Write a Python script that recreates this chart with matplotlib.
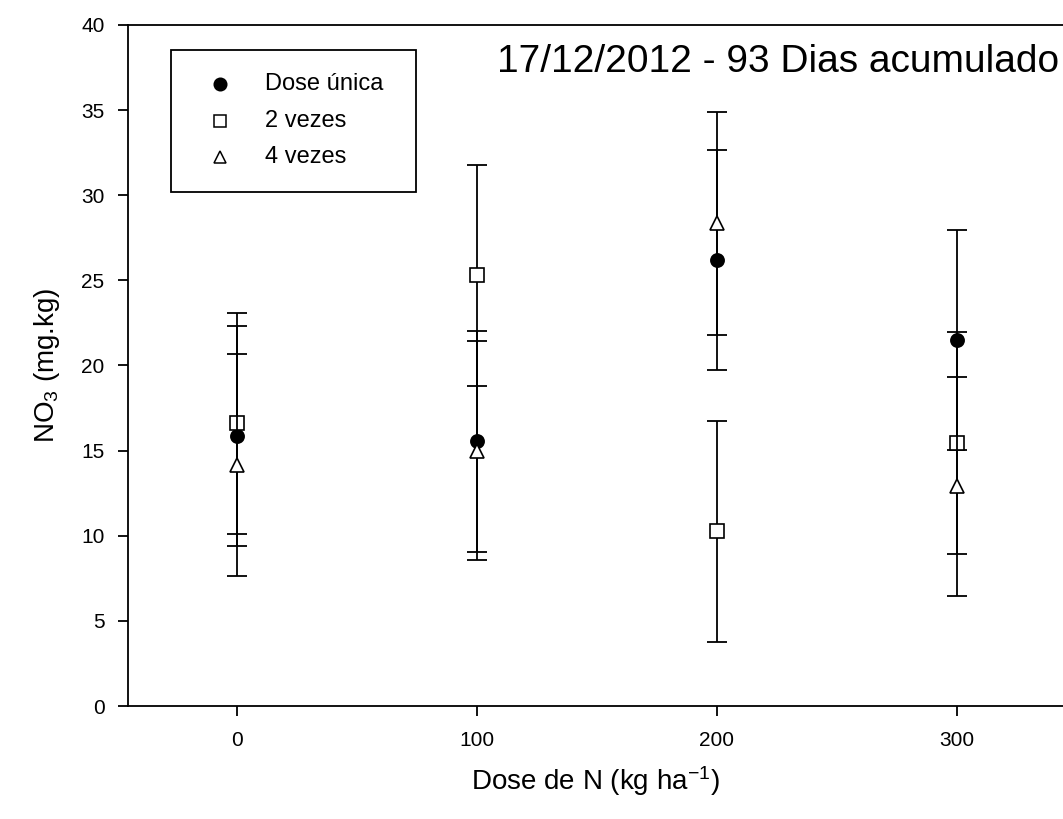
import matplotlib
matplotlib.use('Agg')
import matplotlib.pyplot as plt
from matplotlib.patches import Rectangle

plt.rcParams['font.family'] = ['Liberation Sans', 'DejaVu Sans']
plt.rcParams['mathtext.default'] = 'regular'

# dose de N (kg/ha)
doses = [0, 100, 200, 300]

series_names = ['Dose única', '2 vezes', '4 vezes']

# NO3 means and error
dose_unica = [15.85, 15.55, 26.2, 21.5]
dose_unica_err = [6.45, 6.5, 6.45, 6.45]
duas_vezes = [16.6, 25.3, 10.25, 15.45]
duas_vezes_err = [6.5, 6.5, 6.5, 6.5]
quatro_vezes = [14.15, 15.0, 28.35, 12.9]
quatro_vezes_err = [6.5, 6.45, 6.55, 6.45]

title_text = '17/12/2012 - 93 Dias acumulado'
x_ticks = [0, 100, 200, 300]
y_ticks = [0, 5, 10, 15, 20, 25, 30, 35, 40]

fig = plt.figure(figsize=(10.63, 8.19), dpi=100)
ax = fig.add_axes([128 / 1063, 113 / 819, 935 / 1063, 681 / 819])

styles = [
    dict(marker='o', mfc='black', mec='black', ms=9.5),
    dict(marker='s', mfc='white', mec='black', ms=10),
    dict(marker='^', mfc='white', mec='black', ms=10),
]
data = [(dose_unica, dose_unica_err), (duas_vezes, duas_vezes_err),
        (quatro_vezes, quatro_vezes_err)]

for i, ((vals, errs), st) in enumerate(zip(data, styles)):
    ax.errorbar(doses, vals, yerr=errs, fmt='none', ecolor='black',
                elinewidth=1.3, capsize=7.5, capthick=1.3, zorder=2 + 2 * i)
    ax.plot(doses, vals, linestyle='none', mew=1.2, zorder=3 + 2 * i, **st)

ax.set_xlim(-45.4, 344.2)
ax.set_ylim(0, 40)
ax.set_xticks(x_ticks)
ax.set_yticks(y_ticks)
ax.tick_params(direction='out', length=7, width=1.3, labelsize=15,
               colors='black')
ax.tick_params(axis='x', pad=11)
ax.tick_params(axis='y', pad=10)
ax.spines['right'].set_visible(False)
for s in ['left', 'bottom', 'top']:
    ax.spines[s].set_linewidth(1.3)

ax.set_xlabel('Dose de N (kg ha$^{-1}$)', fontsize=20, labelpad=10)
ax.set_ylabel('NO$_3$ (mg.kg)', fontsize=20, labelpad=14)

ax.text(0.695, 0.946, title_text, transform=ax.transAxes, fontsize=28,
        ha='center', va='center')

# legend box drawn by hand, SigmaPlot style
x0, x1 = (171 - 128) / 935, (416 - 128) / 935
y0, y1 = (706 - 192) / 681, (706 - 50) / 681
ax.add_patch(Rectangle((x0, y0), x1 - x0, y1 - y0, transform=ax.transAxes,
                       fill=False, edgecolor='black', lw=1.3, zorder=10))
row_y = [(706 - 84) / 681, (706 - 121) / 681, (706 - 157) / 681]
leg_sizes = [9, 8.5, 9]
for name, st, yy, ms in zip(series_names, styles, row_y, leg_sizes):
    st2 = dict(st)
    st2['ms'] = ms
    ax.plot([(220 - 128) / 935], [yy], transform=ax.transAxes,
            linestyle='none', mew=1.1, zorder=11, clip_on=False, **st2)
    ax.text((265 - 128) / 935, yy, name, transform=ax.transAxes,
            fontsize=17, va='center', ha='left', zorder=11)

fig.savefig('out.png', dpi=100)
